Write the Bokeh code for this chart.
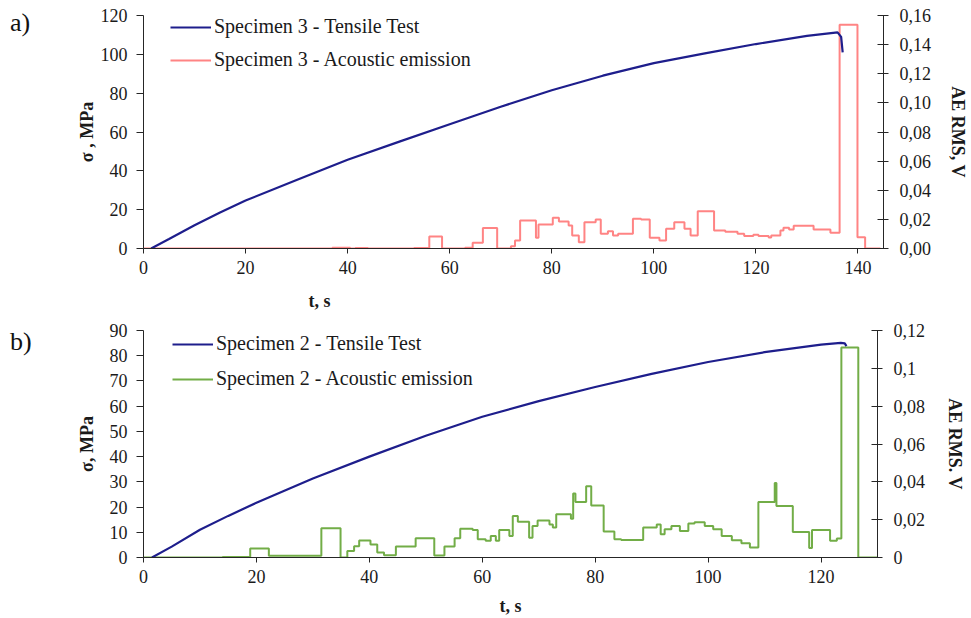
from bokeh.plotting import figure
from bokeh.models import Range1d, LinearAxis, FixedTicker, Legend, LegendItem, Title, Div
from bokeh.layouts import column, row
from bokeh.embed import file_html
from bokeh.resources import INLINE

# ---------------- Data: panel a) Specimen 3 ----------------
t3_tensile = [1.5, 5, 10, 15, 20, 30, 40, 50, 60, 70, 80, 90, 100, 110, 120, 130, 136, 136.7, 137.0]
s3_tensile = [0, 4.9, 12.0, 18.5, 24.7, 35.3, 45.7, 54.9, 64.0, 73.0, 81.5, 89.0, 95.5, 100.5, 105.3, 109.5, 111.3, 109.0, 101.0]

t3_ae = [0, 37, 40.5, 41.5, 44, 53, 56, 58.5, 63, 64.5, 66.5, 69.3, 72, 72.8, 73.8, 76.9, 77.4,
         80.2, 81.4, 83.3, 84.0, 85.3, 86.4, 88.6, 89.6, 91.0, 92.0, 93.0, 95.9, 97.5, 99.2,
         101.1, 102.4, 104.0, 106.0, 107.2, 108.6, 111.8, 114.0, 116.4, 117.7, 119.5, 120.5,
         122.5, 123.0, 124.8, 125.4, 126.5, 127.4, 131.3, 134.6, 136.4, 139.9, 141.4, 144.4]
v3_ae = [0, 0.0006, 0, 0.0003, 0, 0.0003, 0.0083, 0, 0.0005, 0.0040, 0.0140, 0, 0.0016, 0.0055,
         0.0192, 0.0073, 0.0165, 0.0211, 0.0185, 0.0158, 0.0089, 0.0043, 0.0181, 0.0199, 0.0101,
         0.0119, 0.0089, 0.0101, 0.0204, 0.0199, 0.0073, 0.0055, 0.0135, 0.0181, 0.0135, 0.0089,
         0.0256, 0.0124, 0.0115, 0.0101, 0.0085, 0.0095, 0.0085, 0.0075, 0.0090, 0.0124, 0.0142,
         0.0130, 0.0156, 0.0130, 0.0108, 0.1536, 0.0078, 0, 0]

# ---------------- Data: panel b) Specimen 2 ----------------
t2_tensile = [1.5, 5, 10, 15, 20, 30, 40, 50, 60, 70, 80, 90, 100, 110, 120, 123.5, 124.2, 124.5]
s2_tensile = [0, 4.3, 11.0, 16.5, 21.7, 31.3, 40.0, 48.3, 55.8, 62.0, 67.6, 72.8, 77.5, 81.4, 84.4, 85.1, 84.9, 83.8]

t2_ae = [0, 14, 18.9, 22.2, 31.5, 34.9, 36.1, 37.3, 38.2, 40.2, 41.4, 42.6, 44.7, 48.2, 51.5,
         53.3, 55.1, 56.1, 58.3, 59.2, 60.6, 61.5, 62.4, 63.0, 64.8, 65.4, 66.3, 68.3, 68.9,
         69.8, 71.9, 72.5, 73.1, 75.7, 76.1, 76.5, 78.4, 79.3, 81.5, 83.4, 84.6, 88.5, 90.9,
         91.6, 92.3, 93.5, 95.0, 96.5, 97.6, 99.4, 100.9, 102.4, 104.2, 105.9, 107.4, 108.9,
         111.8, 112.1, 115.0, 117.9, 118.4, 121.6, 122.8, 123.6, 126.6, 130.4]
v2_ae = [0, 0.0003, 0.0047, 0.0009, 0.0154, 0, 0.0035, 0.0060, 0.0090, 0.0069, 0.0026, 0.0012,
         0.0058, 0.0102, 0.0010, 0.0058, 0.0102, 0.0152, 0.0145, 0.0096, 0.0088, 0.0114, 0.0088,
         0.0145, 0.0114, 0.0219, 0.0189, 0.0105, 0.0166, 0.0196, 0.0175, 0.0158, 0.0228, 0.0205,
         0.0338, 0.0293, 0.0377, 0.0275, 0.0138, 0.0096, 0.0093, 0.0158, 0.0175, 0.0123, 0.0149,
         0.0166, 0.0140, 0.0180, 0.0187, 0.0166, 0.0149, 0.0114, 0.0091, 0.0075, 0.0053, 0.0293,
         0.0394, 0.0272, 0.0135, 0.0050, 0.0145, 0.0088, 0.0100, 0.1110, 0, 0]

# ticks
x3_ticks = [0, 20, 40, 60, 80, 100, 120, 140]
y3_ticks = [0, 20, 40, 60, 80, 100, 120]
r3_ticks = [0, 0.02, 0.04, 0.06, 0.08, 0.10, 0.12, 0.14, 0.16]
r3_labels = ["0,00", "0,02", "0,04", "0,06", "0,08", "0,10", "0,12", "0,14", "0,16"]

x2_ticks = [0, 20, 40, 60, 80, 100, 120]
y2_ticks = [0, 10, 20, 30, 40, 50, 60, 70, 80, 90]
r2_ticks = [0, 0.02, 0.04, 0.06, 0.08, 0.10, 0.12]
r2_labels = ["0", "0,02", "0,04", "0,06", "0,08", "0,1", "0,12"]

NAVY = "#1E1E8C"
PINK = "#FF8484"
GREEN = "#72AD47"
FONT = "Liberation Serif"
AXC = "#262626"
STRIP = 40


def style_axis(ax, tick_in, tick_out, standoff):
    ax.axis_line_color = AXC
    ax.major_tick_line_color = AXC
    ax.minor_tick_line_color = None
    ax.major_tick_in = tick_in
    ax.major_tick_out = tick_out
    ax.major_label_text_font = FONT
    ax.major_label_text_font_size = "18px"
    ax.major_label_text_color = "#1a1a1a"
    ax.major_label_standoff = standoff
    ax.axis_label_text_font = FONT
    ax.axis_label_text_font_style = "bold"
    ax.axis_label_text_font_size = "18px"
    ax.axis_label_text_color = "#1a1a1a"


def letter_div(height, letter, top):
    html = ('<div style="font-family: \'Liberation Serif\', serif; font-size: 26px; '
            'line-height: 26px; color: #111111; padding-top: %dpx; padding-left: 10px;">%s</div>'
            % (top, letter))
    return Div(text=html, width=STRIP, height=height, margin=(0, 0, 0, 0))


def panel(height, xmax, ymax, rmax, border, xt, yt, rt, rl, ylabel, rlabel,
          tt, st, ta, va, color, name_t, name_a, legend_xy, spacing,
          rstand, rlstand, ylstand):
    p = figure(width=971 - STRIP, height=height, x_range=Range1d(0, xmax), y_range=Range1d(0, ymax),
               output_backend="svg", toolbar_location=None,
               min_border_left=border[0] - STRIP, min_border_right=border[1],
               min_border_top=border[2], min_border_bottom=border[3])
    p.outline_line_color = None
    p.xgrid.visible = False
    p.ygrid.visible = False
    p.background_fill_color = "white"
    p.border_fill_color = "white"
    p.extra_y_ranges = {"ae": Range1d(0, rmax)}

    style_axis(p.xaxis[0], 0, 5, 7)
    p.xaxis[0].ticker = FixedTicker(ticks=xt)
    style_axis(p.yaxis[0], 0, 7, 9)
    p.yaxis[0].ticker = FixedTicker(ticks=yt)
    p.yaxis[0].axis_label = ylabel
    p.yaxis[0].axis_label_standoff = ylstand

    rax = LinearAxis(y_range_name="ae")
    style_axis(rax, 6, 5, rstand)
    rax.ticker = FixedTicker(ticks=rt)
    rax.major_label_overrides = {v: s for v, s in zip(rt, rl)}
    rax.axis_label = rlabel
    rax.axis_label_standoff = rlstand
    try:
        rax.axis_label_orientation = "vertical"
    except Exception:
        pass
    p.add_layout(rax, "right")

    r_ae = p.step(ta, va, mode="after", y_range_name="ae", line_color=color, line_width=2)
    r_t = p.line(tt, st, line_color=NAVY, line_width=2.2)

    leg = Legend(items=[LegendItem(label=name_t, renderers=[r_t]),
                        LegendItem(label=name_a, renderers=[r_ae])],
                 location=legend_xy)
    leg.label_text_font = FONT
    leg.label_text_font_size = "20px"
    leg.label_text_color = "#1a1a1a"
    leg.glyph_width = 41
    leg.glyph_height = 20
    leg.label_height = 20
    leg.label_standoff = 3
    leg.spacing = spacing
    leg.padding = 0
    leg.margin = 0
    leg.border_line_color = None
    leg.background_fill_alpha = 0
    p.add_layout(leg)
    return p


H1 = 322
H2 = 618 - H1

p1 = panel(H1, 145, 120, 0.16, (143, 87, 15, H1 - 248), x3_ticks, y3_ticks, r3_ticks, r3_labels,
           "σ , MPa", "AE RMS, V", t3_tensile, s3_tensile, t3_ae, v3_ae, PINK,
           "Specimen 3 - Tensile Test", "Specimen 3 - Acoustic emission", (27, 177), 10,
           11, 14, 1)
t_top = Title(text="t, s", align="left", offset=165, standoff=24, text_font=FONT,
              text_font_size="18px", text_font_style="bold", text_color="#1a1a1a")
p1.add_layout(t_top, "below")

p2 = panel(H2, 130, 90, 0.12, (143, 94, 330 - H1, 60), x2_ticks, y2_ticks, r2_ticks, r2_labels,
           "σ, MPa", "AE RMS. V", t2_tensile, s2_tensile, t2_ae, v2_ae, GREEN,
           "Specimen 2 - Tensile Test", "Specimen 2 - Acoustic emission", (29, 167), 12,
           11, 17, 10)
p2.xaxis[0].axis_label = "t, s"
p2.xaxis[0].axis_label_standoff = 10

fa = letter_div(H1, "a)", 10)
fb = letter_div(H2, "b)", 342 - H1 - 13)

layout = column(row(fa, p1, spacing=0), row(fb, p2, spacing=0), spacing=0)
open("out.html", "w").write(file_html(layout, INLINE))
